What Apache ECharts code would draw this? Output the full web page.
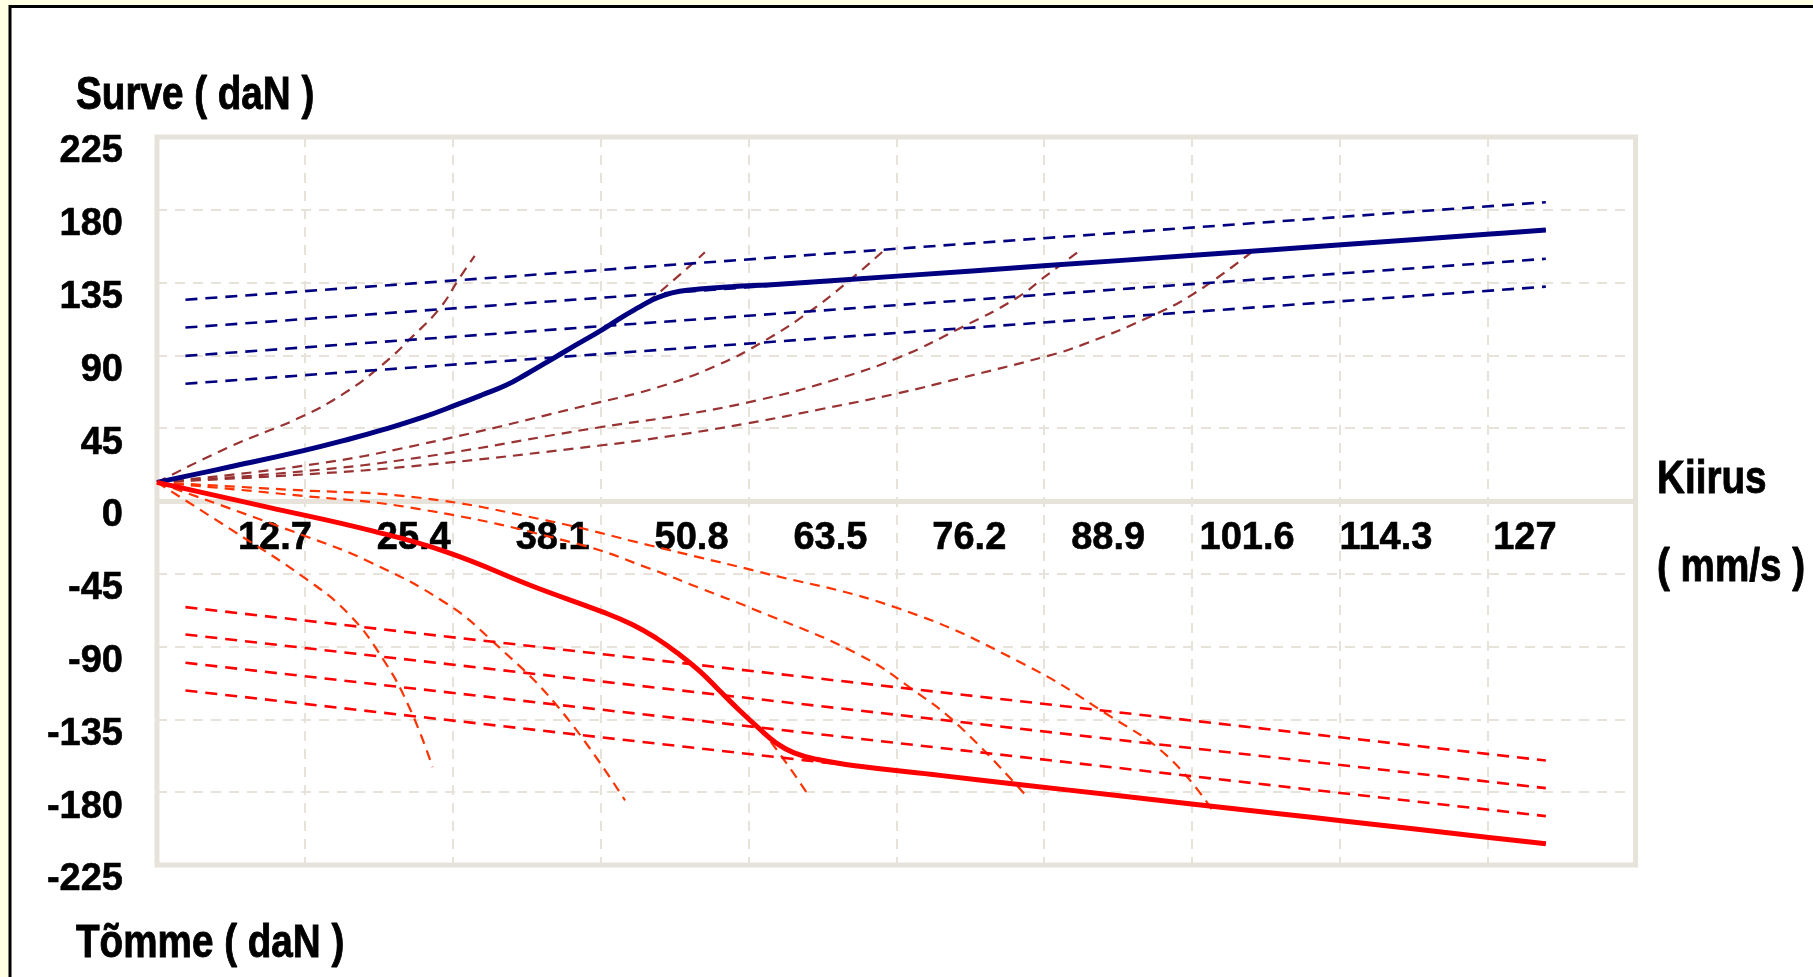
<!DOCTYPE html>
<html>
<head>
<meta charset="utf-8">
<title>Surve / Tõmme – Kiirus</title>
<script src="https://cdn.jsdelivr.net/npm/echarts@6/dist/echarts.min.js"></script>
<style>
  html, body { margin: 0; padding: 0; background: #FFFFE3; }
  #chart { width: 1813px; height: 977px; }
</style>
</head>
<body>
<div id="chart"></div>
<script>
// Speed axis tick labels (mm/s) and force axis tick labels (daN)
const speedTicks = [12.7, 25.4, 38.1, 50.8, 63.5, 76.2, 88.9, 101.6, 114.3, 127];
const forceTicks = [-225, -180, -135, -90, -45, 0, 45, 90, 135, 180, 225];

// Compression ("Surve") main characteristic
const surveSpeed = [0, 6.6, 13.3, 17.7, 20.6, 24.2, 27.6, 29.7, 31.9, 33.8, 35.7, 38.2, 40.5, 42.6, 44.0, 45.2, 46.4, 47.8, 49.6, 52.5, 56.9, 67.7, 81.4, 95.1, 108.3, 121.9, 127];
const surveForce = [11.5, 21, 31, 38.5, 44, 51.5, 60, 65.5, 71.5, 78.5, 86, 96, 105, 114, 119.5, 124, 127.3, 129.6, 131.0, 132.4, 134, 139, 145.5, 152, 158.4, 165, 167.5];

// Rebound ("Tõmme") main characteristic
const tommeSpeed = [0, 10.1, 19.5, 26.5, 34.6, 40.8, 43.5, 45.7, 47.6, 49.6, 51.4, 53.2, 54.95, 56.6, 58.2, 60.3, 64.05, 71.6, 79.2, 86.8, 94.4, 102.2, 108.5, 122, 127];
const tommeForce = [11.5, -3.8, -18.2, -31.6, -53.3, -68.7, -76.5, -85, -94, -105, -117, -129, -140, -149.5, -155.5, -159.6, -163.8, -169.6, -175.5, -181.3, -187.1, -193.0, -197.8, -208.1, -211.9];

// Straight high-speed lines, from speed 2.6 to 127
const lineSpeedFrom = 2.6;
const lineSpeedTo = 127;
const surveLineStart = [124.4, 107.2, 89.7, 72.5];
const surveLineEnd = [184.7, 167.5, 149.7, 132.5];
const tommeLineStart = [-65.6, -82.5, -100, -117.1];
const tommeLineEnd = [-160.4, -177.5, -194.8, -211.9];

// Low-speed curves, compression side
const surveCurveA_x = [0, 6.6, 12.9, 17.1, 20.6, 23.4, 25.9, 27.6, 29.05];
const surveCurveA_y = [11.5, 33.4, 51.1, 66.5, 84.2, 101.9, 119.5, 137.2, 151.5];
const surveCurveB_x = [0, 6.6, 13.3, 20.6, 27.6, 31.9, 35.7, 40.5, 42.6, 44.6, 47.9, 50.1];
const surveCurveB_y = [11.5, 21, 31, 44, 60, 71.5, 86, 105, 114, 122, 140.4, 153.8];
const surveCurveC_x = [0, 13.6, 24.1, 40.5, 45.8, 51.1, 55.6, 59.7, 63, 66.65];
const surveCurveC_y = [11.5, 22, 35, 61.1, 70.3, 83.5, 99.2, 117.2, 134.5, 156];
const surveCurveD_x = [0, 13.6, 24.1, 40.5, 47.5, 54.8, 61.75, 67.9, 73.6, 78.5, 81.35, 84.6];
const surveCurveD_y = [11.5, 18.5, 27, 45.6, 52.6, 62.1, 74.5, 88.9, 107.4, 125, 139.4, 155.9];
const surveCurveE_x = [0, 13.6, 24.1, 40.5, 46.6, 54, 60.9, 67.7, 73.2, 81.35, 84.6, 90.7, 94.8, 100.1];
const surveCurveE_y = [11.5, 16.5, 22, 34.3, 39.8, 48, 57, 66.5, 75.5, 89.5, 96.5, 113.6, 128.1, 153.8];

// Low-speed curves, rebound side
const tommeCurveA_x = [0, 6.9, 13.4, 17.5, 20.75, 23.2, 25.2];
const tommeCurveA_y = [11.5, -18.2, -47.1, -69.7, -98.6, -129.5, -164.5];
const tommeCurveB_x = [0, 13.4, 19.5, 26.5, 30.6, 36.7, 42.8];
const tommeCurveB_y = [11.5, -21.3, -37.8, -63.5, -86.2, -127.5, -185.1];
const tommeCurveC_x = [0, 10.1, 19.5, 26.5, 34.6, 40.8, 43.5, 45.7, 47.6, 49.6, 51.4, 53.2, 54.95, 56.5, 59.7];
const tommeCurveC_y = [11.5, -3.8, -18.2, -31.6, -53.3, -68.7, -76.5, -85, -94, -105, -117, -129, -140, -152.2, -183.1];
const tommeCurveD_x = [0, 12, 24, 38.5, 45.1, 49.7, 54.6, 64.05, 69.4, 73.5, 79.6];
const tommeCurveD_y = [11.5, 4, -5, -26.6, -41.9, -54, -67, -94.5, -118, -140, -183.1];
const tommeCurveE_x = [0, 12, 24, 35.6, 45.1, 49.7, 54.6, 67.85, 79.2, 86.8, 92.5, 96.7];
const tommeCurveE_y = [11.5, 7, 2, -12, -27.5, -35, -43, -66.5, -100.6, -131.5, -158.4, -193];

const NAVY = '#000080';
const BROWN = '#993333';
const RED = '#FF0000';
const ORANGE = '#FF3300';
const FRAME = '#E7E3DB';
const FONT = "'Liberation Sans', Arial, sans-serif";
const TITLE_FONT = 'bold 46px ' + FONT;

const zip = (xs, ys) => xs.map((x, i) => [x, ys[i]]);

function curve(name, xs, ys, color, width, dash, z) {
  return {
    name, type: 'line', xAxisIndex: 0, yAxisIndex: 0,
    data: zip(xs, ys), showSymbol: false, symbol: 'none',
    smooth: 0.45, silent: true, z,
    lineStyle: { color, width, type: dash, cap: 'butt', join: 'round' }
  };
}
function straight(name, start, end, color) {
  return {
    name, type: 'line', xAxisIndex: 0, yAxisIndex: 0,
    data: [[lineSpeedFrom, start], [lineSpeedTo, end]],
    showSymbol: false, symbol: 'none', silent: true, z: 3,
    lineStyle: { color, width: 2.6, type: [12, 8] }
  };
}

const series = [];
[[surveCurveA_x, surveCurveA_y], [surveCurveB_x, surveCurveB_y], [surveCurveC_x, surveCurveC_y],
 [surveCurveD_x, surveCurveD_y], [surveCurveE_x, surveCurveE_y]].forEach((c, i) =>
  series.push(curve('surve-kõver-' + (i + 1), c[0], c[1], BROWN, 2.2, [10, 7], 2)));
[[tommeCurveA_x, tommeCurveA_y], [tommeCurveB_x, tommeCurveB_y], [tommeCurveC_x, tommeCurveC_y],
 [tommeCurveD_x, tommeCurveD_y], [tommeCurveE_x, tommeCurveE_y]].forEach((c, i) =>
  series.push(curve('tõmme-kõver-' + (i + 1), c[0], c[1], ORANGE, 2.2, [10, 7], 2)));
surveLineStart.forEach((s, i) => series.push(straight('surve-joon-' + (i + 1), s, surveLineEnd[i], NAVY)));
tommeLineStart.forEach((s, i) => series.push(straight('tõmme-joon-' + (i + 1), s, tommeLineEnd[i], RED)));
series.push(curve('Surve', surveSpeed, surveForce, NAVY, 5, 'solid', 5));
series.push(curve('Tõmme', tommeSpeed, tommeForce, RED, 5, 'solid', 5));

// Plot frame: 225 at the top edge, -225 at the bottom edge, zero in the middle
const GRID = { left: 157, top: 137, width: 1478.5, height: 728 };

function titleText(x, y, text) {
  return {
    type: 'text', silent: true, x, y, scaleX: 0.84,
    style: {
      x: 0, y: 0, text, font: TITLE_FONT, fill: '#000',
      stroke: '#000', lineWidth: 0.9, verticalAlign: 'middle'
    }
  };
}

const tickLabelStyle = {
  color: '#000', fontFamily: FONT, fontWeight: 'bold', fontSize: 38,
  textBorderColor: '#000', textBorderWidth: 0.6
};

const chart = echarts.init(document.getElementById('chart'), null, { renderer: 'canvas' });
chart.setOption({
  backgroundColor: '#FFFFE3',
  animation: false,
  grid: Object.assign({ show: true, borderColor: FRAME, borderWidth: 5, backgroundColor: 'transparent' }, GRID),
  xAxis: [
    {
      // speed axis, drawn along the zero-force line
      type: 'value', min: 0, max: 135.2, position: 'bottom',
      offset: -GRID.height / 2,
      axisLine: { show: true, onZero: false, lineStyle: { color: FRAME, width: 5 } },
      axisTick: { show: false },
      splitLine: { show: false },
      axisLabel: Object.assign({
        customValues: speedTicks,
        margin: 19, padding: [0, 42, 0, 0],
        formatter: v => String(v)
      }, tickLabelStyle)
    },
    {
      // evenly spaced vertical grid columns
      type: 'value', min: 0, max: 10, interval: 1, position: 'top',
      axisLine: { show: false }, axisTick: { show: false }, axisLabel: { show: false },
      splitLine: { show: true, lineStyle: { color: FRAME, width: 2, type: [10, 8] } }
    }
  ],
  yAxis: {
    type: 'value', min: -225, max: 225, interval: 45,
    axisLine: { show: false }, axisTick: { show: false },
    splitLine: { show: true, lineStyle: { color: FRAME, width: 2, type: [10, 8] } },
    axisLabel: Object.assign({
      customValues: forceTicks,
      margin: 34, verticalAlign: 'top', lineHeight: 30
    }, tickLabelStyle)
  },
  graphic: [
    {
      type: 'rect', z: -10, silent: true,
      shape: { x: 10, y: 6.5, width: 1900, height: 1100 },
      style: { fill: '#FFFFFF', stroke: '#000000', lineWidth: 3 }
    },
    titleText(76, 96, 'Surve ( daN )'),
    titleText(76, 944, 'Tõmme ( daN )'),
    titleText(1657, 480, 'Kiirus'),
    titleText(1657, 568, '( mm/s )')
  ],
  series
});
</script>
</body>
</html>
